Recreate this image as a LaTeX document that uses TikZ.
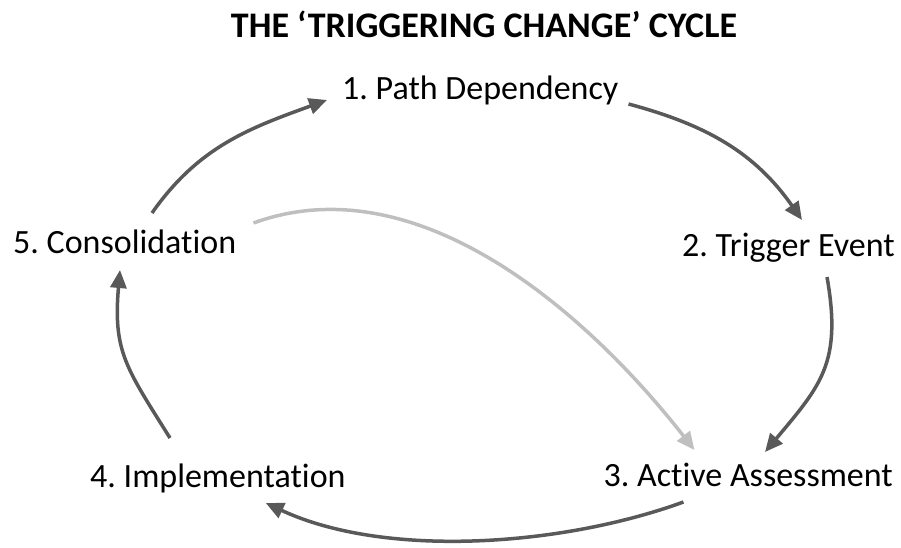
\documentclass[tikz,border=0pt]{standalone}
\usepackage{fontspec}
\setmainfont{Carlito}[Ligatures=NoCommon]
\usetikzlibrary{arrows.meta}
\definecolor{cycdark}{HTML}{595959}
\definecolor{cyclight}{HTML}{BFBFBF}
\frenchspacing

\begin{document}
\begin{tikzpicture}[x=1pt,y=1pt,
		stage node/.style={inner sep=0pt,font=\fontsize{34}{41}\selectfont},
		title node/.style={inner sep=0pt,font=\fontsize{36}{43}\selectfont\bfseries},
		cycle edge/.style={-{Triangle[length=18pt,width=16pt]},line width=3.5pt,draw=cycdark},
		skip edge/.style={cycle edge,draw=cyclight}]
		\useasboundingbox (0,0) rectangle (901,547);
		
		\node[title node, anchor=base] (t) at (484,509) {THE ‘TRIGGERING CHANGE’ CYCLE};
		\node[stage node, anchor=base west] (1) at (342,447) {1. Path Dependency};
		\node[stage node, anchor=base east] (2) at (895,291) {2. Trigger Event};
		\node[stage node, anchor=base east] (3) at (893,61) {3. Active Assessment};
		\node[stage node, anchor=base west] (4) at (90,60) {4. Implementation};
		\node[stage node, anchor=base west] (5) at (13,294) {5. Consolidation};
		
		\path
		([xshift=139pt,yshift=40pt]5.base west) edge[cycle edge, out=55, in=200] ([xshift=-15pt,yshift=0pt]1.base west)
		([xshift=10pt,yshift=-4pt]1.base east) edge[cycle edge, out=-15, in=125] ([xshift=-93pt,yshift=36pt]2.base east)
		([xshift=-68pt,yshift=-21pt]2.base east) edge[cycle edge, out=-80, in=50, looseness=1.2] ([xshift=-128pt,yshift=34pt]3.base east)
		([xshift=80pt,yshift=-16pt]3.base west) edge[cycle edge, out=200, in=-25, looseness=0.8] ([xshift=-80pt,yshift=-16pt]4.base east)
		([xshift=80pt,yshift=49pt]4.base west) edge[cycle edge, out=122, in=-95, looseness=1.2] ([xshift=107pt,yshift=-17pt]5.base west)
		([xshift=17pt,yshift=30pt]5.base east) edge[skip edge, out=20, in=128, looseness=0.9] ([xshift=91pt,yshift=36pt]3.base west);
		\end{tikzpicture}
\end{document}
